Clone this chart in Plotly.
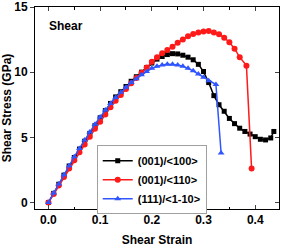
import plotly.graph_objects as go

# ---- data ----
strain_100 = [0.00, 0.01, 0.02, 0.03, 0.04, 0.05, 0.06, 0.07, 0.08, 0.09,
              0.10, 0.11, 0.12, 0.13, 0.14, 0.15, 0.16, 0.17, 0.18, 0.19,
              0.20, 0.21, 0.22, 0.23, 0.24, 0.25, 0.26, 0.27, 0.28, 0.29,
              0.30, 0.31, 0.32, 0.33, 0.34, 0.35, 0.36, 0.37, 0.38, 0.39,
              0.40, 0.41, 0.42, 0.43, 0.436]
stress_100 = [0.0, 0.7, 1.4, 2.1, 2.8, 3.45, 4.1, 4.7, 5.3, 5.9,
              6.5, 7.05, 7.6, 8.1, 8.5, 8.9, 9.3, 9.65, 10.0, 10.35,
              10.7, 11.0, 11.2, 11.35, 11.42, 11.4, 11.3, 11.15, 10.95, 10.6,
              10.05, 9.2, 8.2, 7.5, 7.0, 6.45, 6.05, 5.7, 5.45, 5.25,
              5.05, 4.85, 4.8, 4.95, 5.45]

strain_110 = [0.00, 0.01, 0.02, 0.03, 0.04, 0.05, 0.06, 0.07, 0.08, 0.09,
              0.10, 0.11, 0.12, 0.13, 0.14, 0.15, 0.16, 0.17, 0.18, 0.19,
              0.20, 0.21, 0.22, 0.23, 0.24, 0.25, 0.26, 0.27, 0.28, 0.29,
              0.30, 0.31, 0.32, 0.33, 0.34, 0.35, 0.36, 0.37, 0.383, 0.393]
stress_110 = [0.0, 0.65, 1.3, 1.95, 2.6, 3.25, 3.85, 4.45, 5.05, 5.65,
              6.2, 6.75, 7.3, 7.8, 8.25, 8.7, 9.15, 9.55, 9.95, 10.35,
              10.8, 11.15, 11.45, 11.7, 11.95, 12.25, 12.5, 12.75, 12.92, 13.05,
              13.12, 13.15, 13.05, 12.9, 12.65, 12.3, 11.8, 11.15, 10.5, 2.6]

strain_1m10 = [0.00, 0.01, 0.02, 0.03, 0.04, 0.05, 0.06, 0.07, 0.08, 0.09,
               0.10, 0.11, 0.12, 0.13, 0.14, 0.15, 0.16, 0.17, 0.18, 0.19,
               0.20, 0.21, 0.22, 0.23, 0.24, 0.25, 0.26, 0.27, 0.28, 0.29,
               0.30, 0.31, 0.324, 0.334]
stress_1m10 = [0.0, 0.72, 1.42, 2.12, 2.82, 3.5, 4.15, 4.8, 5.4, 6.0,
               6.55, 7.1, 7.6, 8.05, 8.45, 8.85, 9.2, 9.5, 9.8, 10.05,
               10.3, 10.45, 10.55, 10.6, 10.6, 10.55, 10.45, 10.3, 10.1, 9.85,
               9.6, 9.35, 9.05, 3.8]

series_names = ["(001)/<100>", "(001)/<110>", "(111)/<1-10>"]
x_ticks = [0.0, 0.1, 0.2, 0.3, 0.4]
x_tick_labels = ["0.0", "0.1", "0.2", "0.3", "0.4"]
y_ticks = [0, 5, 10, 15]

FONT = "Liberation Sans, Arial, sans-serif"

fig = go.Figure()
fig.add_trace(go.Scatter(x=strain_100, y=stress_100, mode="lines+markers",
                         name=series_names[0],
                         line=dict(color="black", width=1.5),
                         marker=dict(symbol="square", size=5, color="black")))
fig.add_trace(go.Scatter(x=strain_110, y=stress_110, mode="lines+markers",
                         name=series_names[1],
                         line=dict(color="#ff1a1a", width=1.5),
                         marker=dict(symbol="circle", size=6, color="#ff1a1a")))
fig.add_trace(go.Scatter(x=strain_1m10, y=stress_1m10, mode="lines+markers",
                         name=series_names[2],
                         line=dict(color="#2f55ff", width=1.5),
                         marker=dict(symbol="triangle-up", size=6, color="#2f55ff")))
fig.add_trace(go.Scatter(x=[None], y=[None], yaxis="y2", showlegend=False, hoverinfo="skip"))

fig.update_layout(
    width=283, height=247,
    margin=dict(l=35, r=4, t=7, b=38),
    paper_bgcolor="white", plot_bgcolor="white",
    font=dict(family=FONT, size=12, color="black"),
    showlegend=True,
    legend=dict(x=0.253, y=0.315, xanchor="left", yanchor="top",
                bgcolor="white", bordercolor="#a0a0a0", borderwidth=1,
                font=dict(family=FONT, size=11, color="black", weight="bold"),
                itemwidth=30, tracegroupgap=0),
    xaxis=dict(range=[-0.026, 0.446], tickvals=x_ticks, ticktext=x_tick_labels,
               ticks="inside", ticklen=4, tickwidth=1, mirror="ticks",
               showline=True, linecolor="black", linewidth=1, showgrid=False,
               zeroline=False, automargin=False,
               minor=dict(dtick=0.05, tick0=0, ticks="inside", ticklen=2.5, tickcolor="black"),
               tickfont=dict(family=FONT, size=12, weight="bold"),
               title=dict(text="<b>Shear Strain</b>", font=dict(size=12), standoff=9)),
    yaxis=dict(range=[-0.5, 15], tickvals=y_ticks,
               ticks="outside", ticklen=4, tickwidth=1, mirror=True,
               showline=True, linecolor="black", linewidth=1, showgrid=False,
               zeroline=False, automargin=False,
               tickfont=dict(family=FONT, size=12, weight="bold"),
               title=dict(text="<b>Shear Stress (GPa)</b>", font=dict(size=12), standoff=5)),
    yaxis2=dict(range=[-0.5, 15], tickvals=y_ticks, overlaying="y", side="right",
                ticks="inside", ticklen=4, showticklabels=False, showgrid=False,
                zeroline=False, showline=False, automargin=False),
    annotations=[dict(text="<b>Shear</b>", x=0.05, y=0.905, xref="paper", yref="paper",
                      xanchor="left", yanchor="middle", showarrow=False,
                      font=dict(family=FONT, size=12, color="black"))],
)

fig.write_html("out.html", config={"displayModeBar": False},
               post_script="document.body.style.margin='0';document.body.style.padding='0';")
